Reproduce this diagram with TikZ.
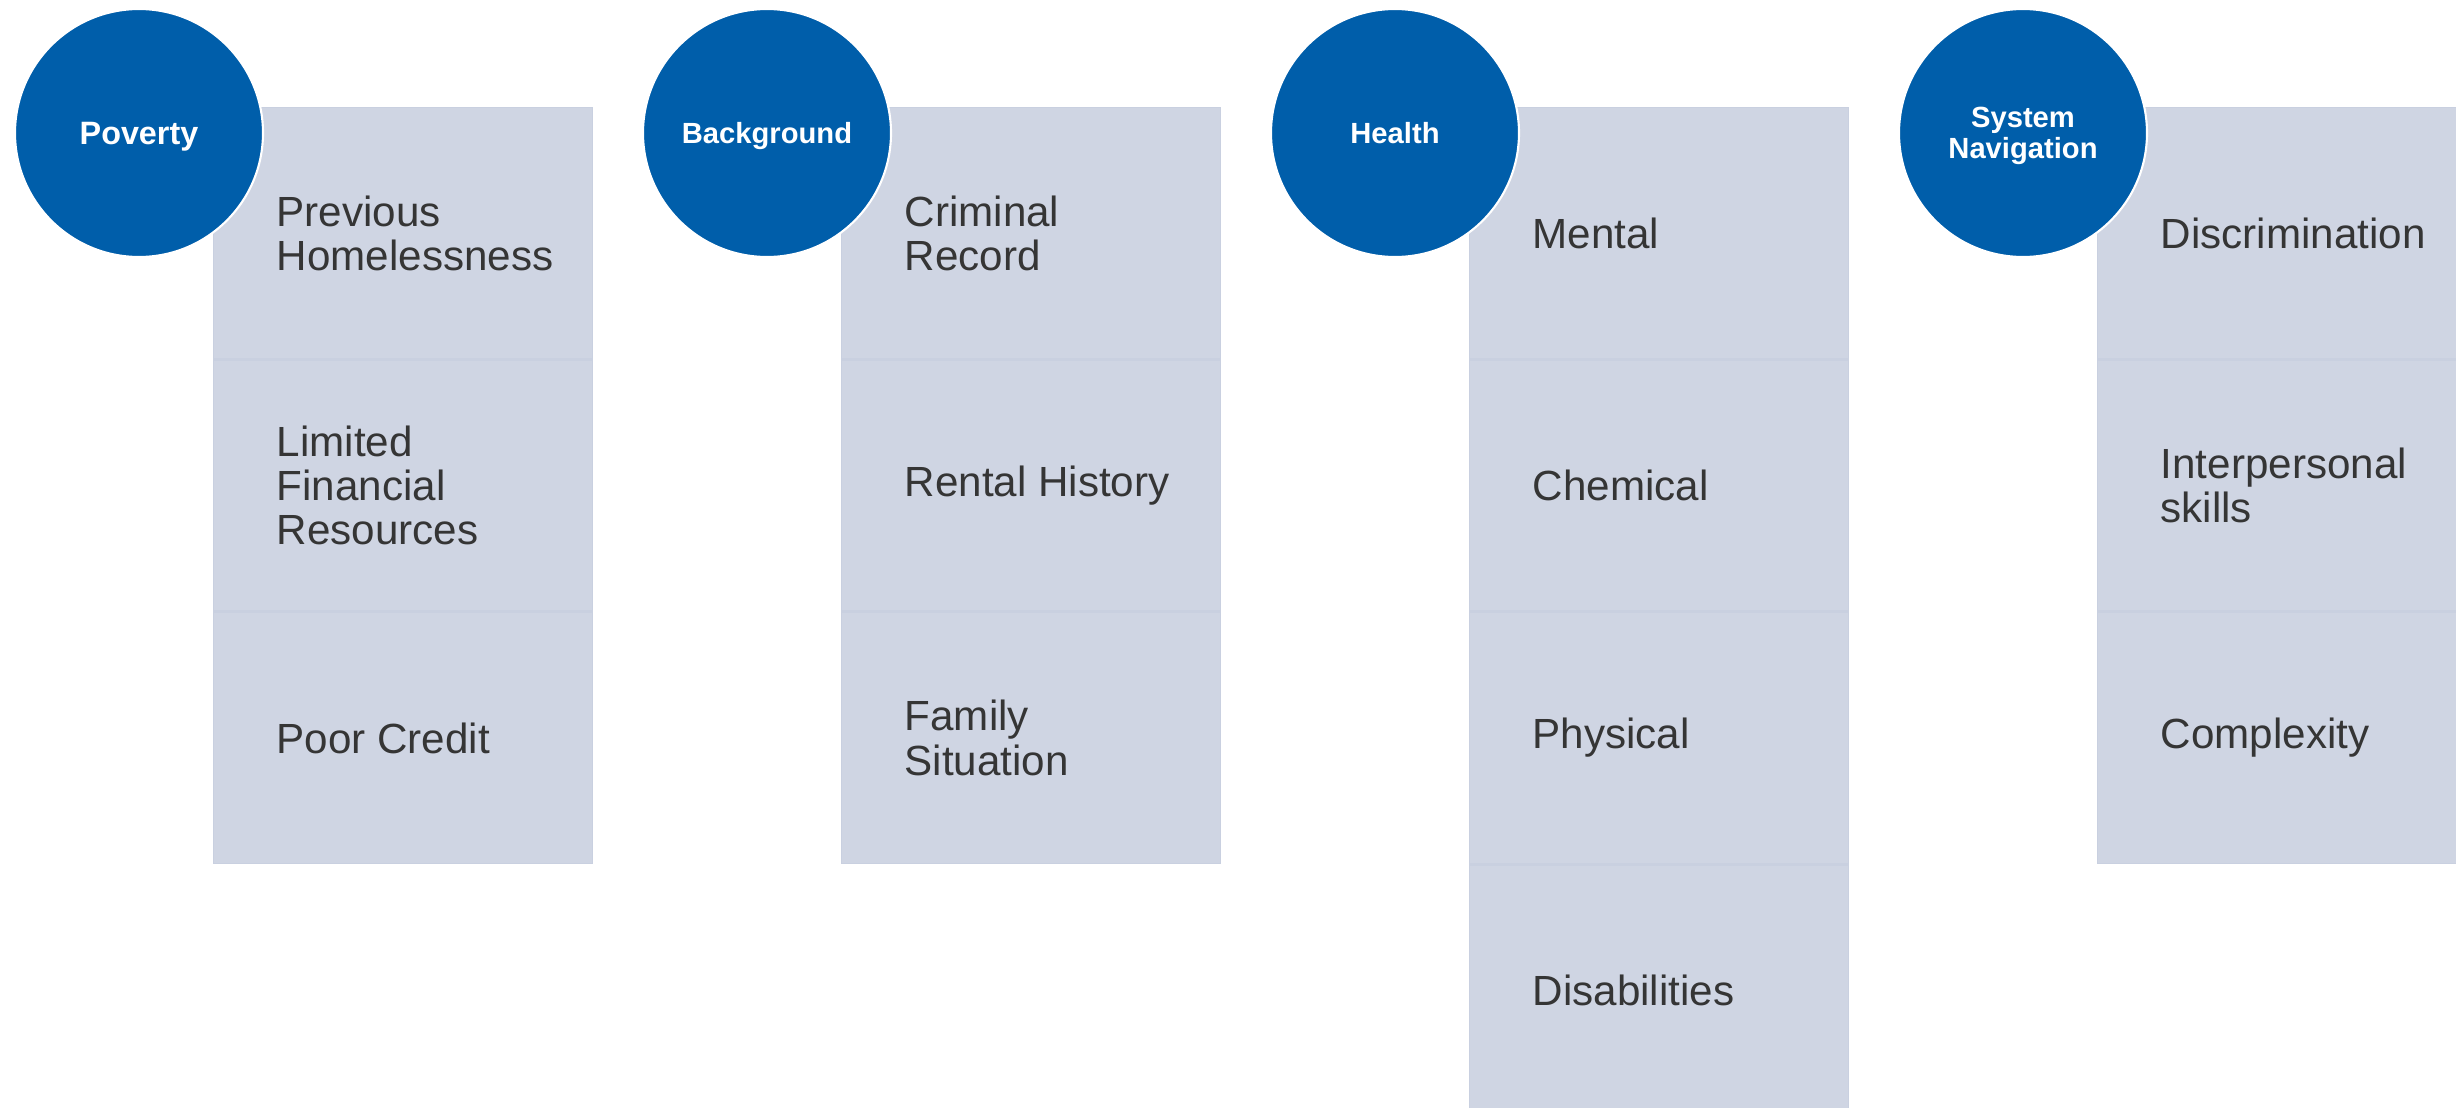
\documentclass[tikz,border=0pt]{standalone}
\usepackage{fontspec}
\setmainfont{Liberation Sans}
\usetikzlibrary{positioning}

\definecolor{navblue}{HTML}{005EAA}
\definecolor{cellfill}{HTML}{CFD5E3}
\definecolor{cellline}{HTML}{C9D0E0}
\definecolor{itemgray}{HTML}{353535}

\begin{document}
\begin{tikzpicture}[
		cell/.style={rectangle, fill=cellfill, draw=cellline, line width=0.4pt, minimum width=3.79cm, minimum height=2.51cm, inner sep=0pt},
		item/.style={anchor=west, align=left, inner sep=0pt, text=itemgray, font=\fontsize{12}{12.6}\selectfont},
		topic/.style={circle, fill=navblue, draw=white, line width=0.6pt, minimum size=2.48cm, inner sep=0pt, text=white, align=center, text depth=0pt, font=\fontsize{8.3}{8.9}\selectfont\bfseries}
	]
		\useasboundingbox (0,0) rectangle (24.56,11.07);
		\begin{scope}
			\clip (0,0) rectangle (24.56,11.07);

			% poverty
			\node[cell, anchor=north west] (pov1) at (2.13,10) {};
			\node[cell, below=0pt of pov1] (pov2) {};
			\node[cell, below=0pt of pov2] (pov3) {};
			\node[item] (pov1t) at ([xshift=0.63cm]pov1.west) {Previous\\Homelessness};
			\node[item] (pov2t) at ([xshift=0.63cm]pov2.west) {Limited\\Financial\\Resources};
			\node[item] (pov3t) at ([xshift=0.63cm]pov3.west) {Poor Credit};

			% background
			\node[cell, anchor=north west] (bg1) at (8.41,10) {};
			\node[cell, below=0pt of bg1] (bg2) {};
			\node[cell, below=0pt of bg2] (bg3) {};
			\node[item] (bg1t) at ([xshift=0.63cm]bg1.west) {Criminal\\Record};
			\node[item] (bg2t) at ([xshift=0.63cm]bg2.west) {Rental History};
			\node[item] (bg3t) at ([xshift=0.63cm]bg3.west) {Family\\Situation};

			% health
			\node[cell, anchor=north west] (hl1) at (14.69,10) {};
			\node[cell, below=0pt of hl1] (hl2) {};
			\node[cell, below=0pt of hl2] (hl3) {};
			\node[cell, below=0pt of hl3] (hl4) {};
			\node[item] (hl1t) at ([xshift=0.63cm]hl1.west) {Mental};
			\node[item] (hl2t) at ([xshift=0.63cm]hl2.west) {Chemical};
			\node[item] (hl3t) at ([xshift=0.63cm]hl3.west) {Physical};
			\node[item] (hl4t) at ([xshift=0.63cm]hl4.west) {Disabilities};

			% system navigation
			\node[cell, anchor=north west] (nav1) at (20.97,10) {};
			\node[cell, below=0pt of nav1] (nav2) {};
			\node[cell, below=0pt of nav2] (nav3) {};
			\node[item] (nav1t) at ([xshift=0.63cm]nav1.west) {Discrimination};
			\node[item] (nav2t) at ([xshift=0.63cm]nav2.west) {Interpersonal\\skills};
			\node[item] (nav3t) at ([xshift=0.63cm]nav3.west) {Complexity};

			% circles on top
			\node[topic, font=\fontsize{9.2}{9.2}\selectfont\bfseries] (pov) at (1.39,9.74) {Poverty};
			\node[topic] (bg) at (7.67,9.74) {Background};
			\node[topic] (hl) at (13.95,9.74) {Health};
			\node[topic] (nav) at (20.23,9.74) {System\\Navigation};
		\end{scope}
\end{tikzpicture}
\end{document}
